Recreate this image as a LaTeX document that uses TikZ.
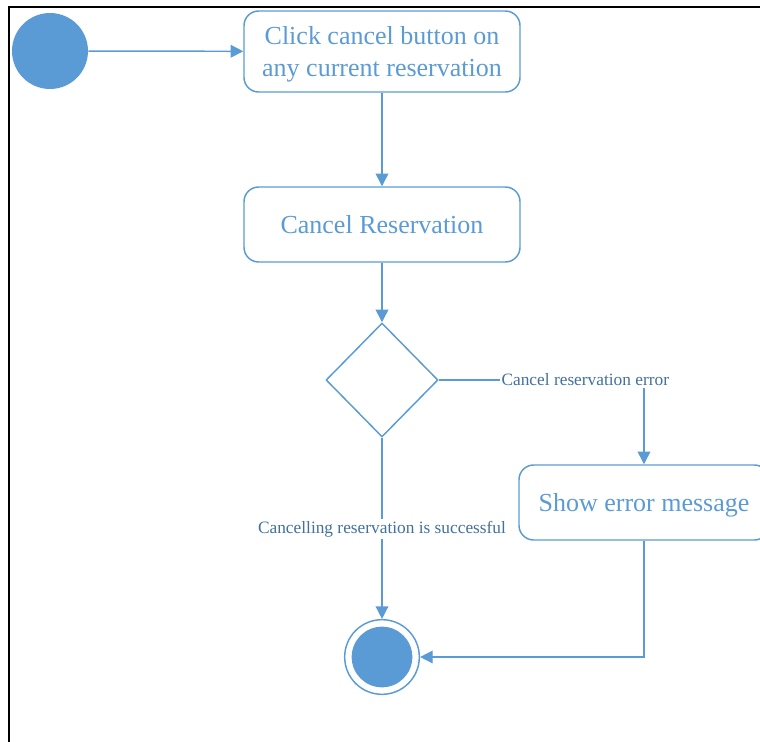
\documentclass[tikz,border=0pt]{standalone}
\usepackage{fontspec}
\setmainfont{Liberation Serif}
\usetikzlibrary{arrows.meta,shapes.geometric}
\definecolor{umlblue}{HTML}{5B9BD5}
\definecolor{labelblue}{HTML}{41719C}

\begin{document}
\begin{tikzpicture}[x=0.75pt,y=-0.75pt,
  flow/.style={draw=umlblue,line width=1.1pt,-{Triangle[length=9.5pt,width=9.5pt]}},
  action/.style={draw=umlblue,line width=1.1pt,rounded corners=11pt,text=umlblue,
    font=\fontsize{19.5}{24}\selectfont,align=center,inner sep=0pt,text depth=0pt},
  lbl/.style={fill=white,text=labelblue,font=\fontsize{13}{15}\selectfont,inner sep=1.5pt}]

  \clip (0,0) rectangle (760,742);

  % page frame
  \draw[line width=2pt] (9,745) -- (9,7) -- (765,7);

  % initial state
  \node[circle,fill=umlblue,minimum size=57pt,inner sep=0pt] (start) at (50,51) {};

  % actions
  \node[action,minimum width=207pt,minimum height=60.75pt] (click) at (382,51.5)
    {Click cancel button on\\any current reservation};
  \node[action,minimum width=207pt,minimum height=56.25pt] (cancel) at (382,224.5)
    {Cancel Reservation};
  \node[action,minimum width=187.5pt,minimum height=56.25pt] (err) at (644,502.5)
    {Show error message};

  % decision
  \node[diamond,draw=umlblue,line width=1.1pt,minimum width=84pt,minimum height=85.5pt,
    inner sep=0pt] (dec) at (382,380) {};

  % final state
  \node[circle,draw=umlblue,line width=1.1pt,minimum size=56pt,inner sep=0pt] (end) at (382,657) {};
  \node[circle,fill=umlblue,minimum size=45.5pt,inner sep=0pt] (endcore) at (382,657) {};

  % transitions
  \draw[flow] (start) -- (click);
  \draw[flow] (click) -- (cancel);
  \draw[flow] (cancel) -- (dec);
  \draw[flow] (dec.east) -| node[lbl,pos=0.357] (errlbl) {Cancel reservation error} (err.north);
  \draw[flow] (dec.south) -- node[lbl,pos=0.505] (oklbl) {Cancelling reservation is successful} (end.north);
  \draw[flow] (err.south) |- (end.east);
\end{tikzpicture}
\end{document}
